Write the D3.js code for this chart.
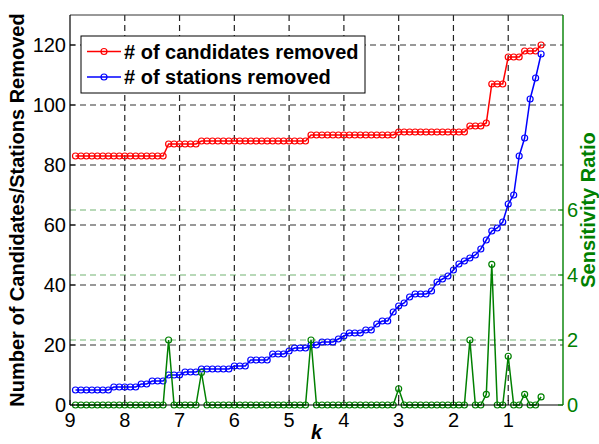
<!DOCTYPE html>
<html>
<head>
<meta charset="utf-8">
<script src="https://cdn.jsdelivr.net/npm/d3@7/dist/d3.min.js"></script>
<style>
  html, body { margin: 0; padding: 0; background: #fff; }
  svg { display: block; font-family: "Liberation Sans", Arial, Helvetica, sans-serif; }
</style>
</head>
<body>
<svg id="chart" width="599" height="444"></svg>
<script>
// k threshold for each step
const kValues = [
  8.9, 8.8, 8.7, 8.6, 8.5, 8.4, 8.3, 8.2, 8.1, 8.0,
  7.9, 7.8, 7.7, 7.6, 7.5, 7.4, 7.3, 7.2, 7.1, 7.0,
  6.9, 6.8, 6.7, 6.6, 6.5, 6.4, 6.3, 6.2, 6.1, 6.0,
  5.9, 5.8, 5.7, 5.6, 5.5, 5.4, 5.3, 5.2, 5.1, 5.0,
  4.9, 4.8, 4.7, 4.6, 4.5, 4.4, 4.3, 4.2, 4.1, 4.0,
  3.9, 3.8, 3.7, 3.6, 3.5, 3.4, 3.3, 3.2, 3.1, 3.0,
  2.9, 2.8, 2.7, 2.6, 2.5, 2.4, 2.3, 2.2, 2.1, 2.0,
  1.9, 1.8, 1.7, 1.6, 1.5, 1.4, 1.3, 1.2, 1.1, 1.0,
  0.9, 0.8, 0.7, 0.6, 0.5, 0.4
];

// # of candidates removed
const candidatesRemoved = [
  83, 83, 83, 83, 83, 83, 83, 83, 83, 83,
  83, 83, 83, 83, 83, 83, 83, 87, 87, 87,
  87, 87, 87, 88, 88, 88, 88, 88, 88, 88,
  88, 88, 88, 88, 88, 88, 88, 88, 88, 88,
  88, 88, 88, 90, 90, 90, 90, 90, 90, 90,
  90, 90, 90, 90, 90, 90, 90, 90, 90, 91,
  91, 91, 91, 91, 91, 91, 91, 91, 91, 91,
  91, 91, 93, 93, 93, 94, 107, 107, 107, 116,
  116, 116, 118, 118, 118, 120
];

// # of stations removed
const stationsRemoved = [
  5, 5, 5, 5, 5, 5, 5, 6, 6, 6,
  6, 6, 7, 7, 8, 8, 8, 10, 10, 10,
  11, 11, 11, 12, 12, 12, 12, 12, 12, 13,
  13, 13, 15, 15, 15, 15, 17, 17, 17, 18,
  19, 19, 19, 20, 20, 21, 21, 21, 22, 23,
  24, 24, 24, 25, 25, 27, 28, 28, 31, 33,
  34, 36, 37, 37, 37, 38, 41, 42, 43, 45,
  47, 48, 49, 50, 52, 55, 58, 59, 61, 67,
  70, 83, 89, 102, 109, 117
];

// sensitivity ratio (right axis)
const sensitivityRatio = [
  0, 0, 0, 0, 0, 0, 0, 0, 0, 0,
  0, 0, 0, 0, 0, 0, 0, 2, 0, 0,
  0, 0, 0, 1, 0, 0, 0, 0, 0, 0,
  0, 0, 0, 0, 0, 0, 0, 0, 0, 0,
  0, 0, 0, 2, 0, 0, 0, 0, 0, 0,
  0, 0, 0, 0, 0, 0, 0, 0, 0, 0.5,
  0, 0, 0, 0, 0, 0, 0, 0, 0, 0,
  0, 0, 2, 0, 0, 0.33, 4.33, 0, 0, 1.5,
  0, 0, 0.33, 0, 0, 0.25
];

const xTicks = [9, 8, 7, 6, 5, 4, 3, 2, 1];
const leftTicks = [0, 20, 40, 60, 80, 100, 120];
const rightTicks = [0, 2, 4, 6];

const legendLabels = ["# of candidates removed", "# of stations removed"];
const seriesColors = ["#ff0000", "#0000ff"];
const ratioColor = "#008000";

const margin = { left: 70, right: 36, top: 15, bottom: 39 };
const W = 599, H = 444;
const x0 = margin.left, x1 = W - margin.right;
const y0 = H - margin.bottom, y1 = margin.top;

const svg = d3.select("#chart");

const x = d3.scaleLinear().domain([9, 0]).range([x0, x1]);
const yL = d3.scaleLinear().domain([0, 130]).range([y0, y1]);
const yR = d3.scaleLinear().domain([0, 12]).range([y0, y1]);

// grid: vertical + left horizontal (black dashed)
const grid = svg.append("g").attr("class", "grid");
grid.selectAll("line.v").data(xTicks.filter(d => d !== 9)).enter().append("line")
  .attr("x1", d => x(d)).attr("x2", d => x(d))
  .attr("y1", y1).attr("y2", y0)
  .attr("stroke", "#222").attr("stroke-width", 1.2).attr("stroke-dasharray", "6,4");
grid.selectAll("line.h").data(leftTicks.filter(d => d > 0)).enter().append("line")
  .attr("x1", x0).attr("x2", x1)
  .attr("y1", d => yL(d)).attr("y2", d => yL(d))
  .attr("stroke", "#333").attr("stroke-width", 1.2).attr("stroke-dasharray", "6,4");
// right-axis grid (green dashed)
grid.selectAll("line.hr").data(rightTicks.filter(d => d > 0)).enter().append("line")
  .attr("x1", x0).attr("x2", x1)
  .attr("y1", d => yR(d)).attr("y2", d => yR(d))
  .attr("stroke", "#4fa04f").attr("stroke-opacity", 0.8).attr("stroke-width", 1.2)
  .attr("stroke-dasharray", "6,4");

// series
const pts = kValues.map((k, i) => ({ k, c: candidatesRemoved[i], s: stationsRemoved[i], r: sensitivityRatio[i] }));

function drawSeries(accessor, yScale, color) {
  const g = svg.append("g");
  const line = d3.line().x(d => x(d.k)).y(d => yScale(accessor(d)));
  g.append("path").datum(pts).attr("d", line)
    .attr("fill", "none").attr("stroke", color).attr("stroke-width", 1.5);
  g.selectAll("circle").data(pts).enter().append("circle")
    .attr("cx", d => x(d.k)).attr("cy", d => yScale(accessor(d)))
    .attr("r", 3).attr("fill", "none").attr("stroke", color).attr("stroke-width", 1.2);
}
drawSeries(d => d.c, yL, seriesColors[0]);
drawSeries(d => d.s, yL, seriesColors[1]);
drawSeries(d => d.r, yR, ratioColor);

// axes
const axes = svg.append("g");
axes.append("line").attr("x1", x0).attr("x2", x1).attr("y1", y1).attr("y2", y1)
  .attr("stroke", "#333").attr("stroke-width", 1);
axes.append("line").attr("x1", x0).attr("x2", x1).attr("y1", y0).attr("y2", y0)
  .attr("stroke", "#000").attr("stroke-width", 1.2);
axes.append("line").attr("x1", x0).attr("x2", x0).attr("y1", y1).attr("y2", y0)
  .attr("stroke", "#000").attr("stroke-width", 1.2);
axes.append("line").attr("x1", x1).attr("x2", x1).attr("y1", y1).attr("y2", y0)
  .attr("stroke", ratioColor).attr("stroke-width", 1.4);

// left ticks
axes.selectAll("line.lt").data(leftTicks).enter().append("line")
  .attr("x1", x0).attr("x2", x0 + 5).attr("y1", d => yL(d)).attr("y2", d => yL(d))
  .attr("stroke", "#000");
axes.selectAll("text.lt").data(leftTicks).enter().append("text")
  .attr("x", x0 - 4).attr("y", d => yL(d)).attr("dy", "0.36em")
  .attr("text-anchor", "end").attr("font-size", 20).attr("fill", "#000")
  .text(d => d);

// right ticks
axes.selectAll("line.rt").data(rightTicks).enter().append("line")
  .attr("x1", x1 - 5).attr("x2", x1).attr("y1", d => yR(d)).attr("y2", d => yR(d))
  .attr("stroke", ratioColor);
axes.selectAll("text.rt").data(rightTicks).enter().append("text")
  .attr("x", x1 + 4).attr("y", d => yR(d)).attr("dy", "0.36em")
  .attr("text-anchor", "start").attr("font-size", 20).attr("fill", ratioColor)
  .text(d => d);

// bottom ticks
axes.selectAll("line.bt").data(xTicks).enter().append("line")
  .attr("x1", d => x(d)).attr("x2", d => x(d)).attr("y1", y0).attr("y2", y0 - 5)
  .attr("stroke", "#000");
axes.selectAll("text.bt").data(xTicks).enter().append("text")
  .attr("x", d => x(d)).attr("y", y0 + 22)
  .attr("text-anchor", "middle").attr("font-size", 20).attr("fill", "#000")
  .text(d => d);

// axis titles
svg.append("text")
  .attr("transform", `translate(24,${(y0 + y1) / 2}) rotate(-90)`)
  .attr("text-anchor", "middle").attr("font-size", 20).attr("font-weight", "bold")
  .attr("fill", "#000").text("Number of Candidates/Stations Removed");
svg.append("text")
  .attr("transform", `translate(595,${(y0 + y1) / 2}) rotate(-90)`)
  .attr("text-anchor", "middle").attr("font-size", 20).attr("font-weight", "bold")
  .attr("fill", ratioColor).text("Sensitivity Ratio");
svg.append("text")
  .attr("x", (x0 + x1) / 2).attr("y", 439)
  .attr("text-anchor", "middle").attr("font-size", 20).attr("font-weight", "bold")
  .attr("font-style", "italic").attr("fill", "#000").text("k");

// legend
const legend = svg.append("g");
legend.append("rect").attr("x", 81).attr("y", 36).attr("width", 284).attr("height", 57)
  .attr("fill", "#fff").attr("stroke", "#000").attr("stroke-width", 1);
legendLabels.forEach((lab, i) => {
  const cy = 51.5 + i * 25.5;
  legend.append("line").attr("x1", 87).attr("x2", 121).attr("y1", cy).attr("y2", cy)
    .attr("stroke", seriesColors[i]).attr("stroke-width", 1.5);
  legend.append("circle").attr("cx", 104).attr("cy", cy).attr("r", 3)
    .attr("fill", "none").attr("stroke", seriesColors[i]).attr("stroke-width", 1.2);
  legend.append("text").attr("x", 124).attr("y", cy + 7.2)
    .attr("font-size", 20).attr("font-weight", "bold").attr("fill", "#000").text(lab);
});
</script>
</body>
</html>
